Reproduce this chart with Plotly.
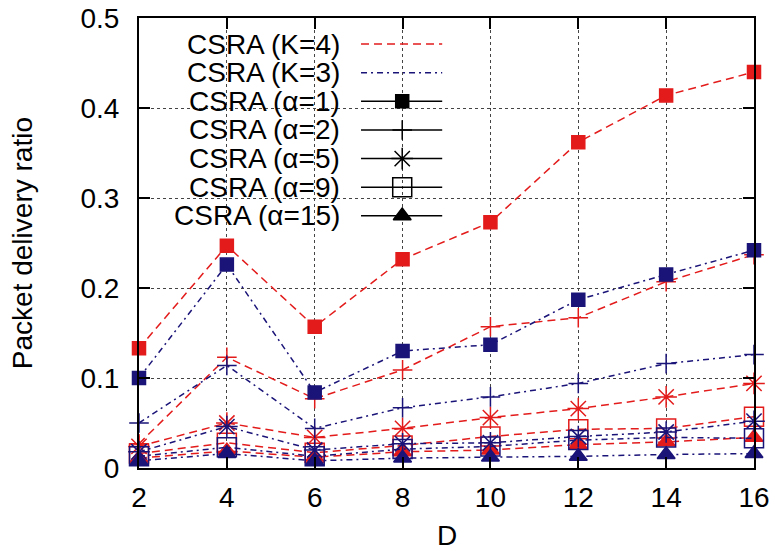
import plotly.graph_objects as go

# ---------------- data ----------------
D = [2, 4, 6, 8, 10, 12, 14, 16]

# CSRA (K=4)  -- red dashed
k4_a1 = [0.133, 0.247, 0.157, 0.232, 0.273, 0.362, 0.414, 0.440]
k4_a2 = [0.027, 0.123, 0.077, 0.109, 0.157, 0.167, 0.207, 0.237]
k4_a5 = [0.024, 0.050, 0.034, 0.044, 0.056, 0.066, 0.079, 0.094]
k4_a9 = [0.016, 0.028, 0.017, 0.025, 0.035, 0.043, 0.044, 0.057]
k4_a15 = [0.011, 0.019, 0.012, 0.018, 0.020, 0.026, 0.029, 0.034]

# CSRA (K=3)  -- navy dash-dot
k3_a1 = [0.100, 0.226, 0.084, 0.130, 0.137, 0.187, 0.215, 0.242]
k3_a2 = [0.050, 0.114, 0.044, 0.067, 0.079, 0.094, 0.116, 0.126]
k3_a5 = [0.018, 0.046, 0.020, 0.027, 0.028, 0.035, 0.040, 0.052]
k3_a9 = [0.013, 0.023, 0.013, 0.021, 0.024, 0.031, 0.034, 0.033]
k3_a15 = [0.008, 0.016, 0.008, 0.011, 0.012, 0.013, 0.015, 0.016]

alpha_labels = ["CSRA (α=1)", "CSRA (α=2)", "CSRA (α=5)", "CSRA (α=9)", "CSRA (α=15)"]
k_labels = ["CSRA (K=4)", "CSRA (K=3)"]
y_ticks = [0, 0.1, 0.2, 0.3, 0.4, 0.5]
y_ticklabels = ["0", "0.1", "0.2", "0.3", "0.4", "0.5"]
x_title = "D"
y_title = "Packet delivery ratio"

# ---------------- styles ----------------
RED = "#e31b1b"
NAVY = "#1b1478"
FONT = "Liberation Sans, Arial, Helvetica, sans-serif"
FS = 28

# marker styles per alpha: (symbol, size)
alpha_styles = [
    ("square", 13),
    ("cross-thin-open", 14),
    ("asterisk-open", 18),
    ("square-open", 19),
    ("triangle-up", 15.5),
]
RED_DASH = "8px,5px"
NAVY_DASH = "6px,4px,2px,4px"

fig = go.Figure()

series = [
    (RED, RED_DASH, [k4_a1, k4_a2, k4_a5, k4_a9, k4_a15]),
    (NAVY, NAVY_DASH, [k3_a1, k3_a2, k3_a5, k3_a9, k3_a15]),
]
for color, dash, sets in series:
    for vals, (sym, size) in zip(sets, alpha_styles):
        fig.add_trace(go.Scatter(
            x=D, y=vals, mode="lines+markers",
            line=dict(color=color, width=1.5, dash=dash),
            marker=dict(symbol=sym, size=size, color=color,
                        line=dict(color=color, width=1.5)),
            showlegend=False, cliponaxis=False,
        ))

# ---------------- custom legend (overlay axes in 0..1 units) ----------------
row_top = 0.942
row_step = 0.0636
lx0, lx1, lmark, ltext = 0.361, 0.493, 0.428, 0.330
legend_rows = [(k_labels[0], RED, RED_DASH, None),
               (k_labels[1], NAVY, NAVY_DASH, None)] + \
              [(lab, "black", "solid", st) for lab, st in zip(alpha_labels, alpha_styles)]

annotations = []
for i, (lab, color, dash, st) in enumerate(legend_rows):
    yy = row_top - i * row_step
    fig.add_trace(go.Scatter(
        x=[lx0, lx1], y=[yy, yy], mode="lines",
        line=dict(color=color, width=1.5, dash=dash),
        xaxis="x2", yaxis="y2", showlegend=False, hoverinfo="skip"))
    if st is not None:
        fig.add_trace(go.Scatter(
            x=[lmark], y=[yy], mode="markers",
            marker=dict(symbol=st[0], size=st[1], color="black",
                        line=dict(color="black", width=1.5)),
            xaxis="x2", yaxis="y2", showlegend=False, hoverinfo="skip"))
    annotations.append(dict(
        x=ltext, y=yy, xref="paper", yref="paper", text=lab, showarrow=False,
        xanchor="right", yanchor="middle", font=dict(family=FONT, size=FS, color="black")))

annotations.append(dict(x=0.5, y=-0.151, xref="paper", yref="paper", text=x_title,
                        showarrow=False, xanchor="center", yanchor="middle",
                        font=dict(family=FONT, size=FS, color="black")))
annotations.append(dict(x=-0.19, y=0.5, xref="paper", yref="paper", text=y_title,
                        showarrow=False, xanchor="center", yanchor="middle", textangle=-90,
                        font=dict(family=FONT, size=FS, color="black")))

axis_common = dict(
    showline=True, linecolor="black", linewidth=2, mirror="ticks",
    ticks="inside", ticklen=11, tickwidth=1.5, tickcolor="black",
    showgrid=True, gridcolor="#444444", gridwidth=1, griddash="dot",
    zeroline=False, automargin=False,
    tickfont=dict(family=FONT, size=FS, color="black"),
)

fig.update_layout(
    width=775, height=551,
    margin=dict(l=139, r=21, t=18, b=83, autoexpand=False),
    paper_bgcolor="white", plot_bgcolor="white",
    xaxis=dict(range=[2, 16], tickvals=D, ticktext=[str(d) for d in D],
               ticklabelstandoff=3, **axis_common),
    yaxis=dict(range=[0, 0.5], tickvals=y_ticks, ticktext=y_ticklabels,
               ticklabelstandoff=12, **axis_common),
    xaxis2=dict(overlaying="x", range=[0, 1], visible=False, automargin=False),
    yaxis2=dict(overlaying="y", range=[0, 1], visible=False, automargin=False),
    annotations=annotations,
    shapes=[dict(type="rect", xref="paper", yref="paper", x0=0.003, x1=0.517,
                 y0=0.533, y1=0.997, fillcolor="white", line=dict(width=0),
                 layer="between")],
    showlegend=False,
)

fig.write_html("out.html")
